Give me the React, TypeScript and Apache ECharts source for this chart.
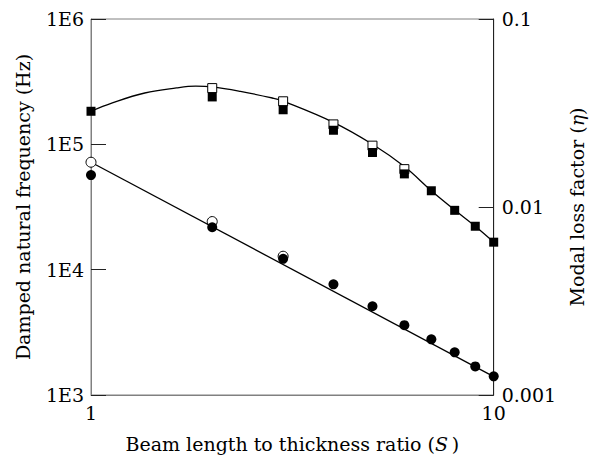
import React, { useEffect, useRef } from "react";
import * as echarts from "echarts";

// Beam length to thickness ratio S
const S = [1, 2, 3, 4, 5, 6, 7, 8, 9, 10];
// Damped natural frequency (Hz), filled circles
const freqFilled = [56800, 21800, 12200, 7640, 5110, 3610, 2780, 2190, 1690, 1410];
// open circles
const sOpenFreq = [1, 2, 3];
const freqOpen = [72000, 24200, 12800];
// fitted straight line (log-log)
const freqFitS = [1, 10];
const freqFit = [72000, 1400];

// Modal loss factor (eta), filled squares
const etaFilled = [0.0323, 0.0385, 0.0329, 0.0256, 0.0195, 0.015, 0.0122, 0.0096, 0.0079, 0.0065];
// open squares
const sOpenEta = [2, 3, 4, 5, 6];
const etaOpen = [0.0429, 0.0365, 0.0275, 0.0212, 0.0159];
// fitted curve
const etaFitS = [1, 1.13, 1.36, 1.63, 1.82, 2, 2.35, 2.82, 3, 4, 5, 6, 7, 8, 9, 10];
const etaFit = [0.0323, 0.0358, 0.0404, 0.043, 0.0439, 0.0435, 0.0412, 0.038, 0.0366, 0.0282, 0.02155, 0.0164, 0.0122, 0.00964, 0.0079, 0.0065];

const xTicks = ["1", "10"];
const leftTicks = ["1E3", "1E4", "1E5", "1E6"];
const rightTicks = ["0.001", "0.01", "0.1"];

const FONT = "'DejaVu Serif', serif";
const FS = 19;

function zip(xs: number[], ys: number[]) {
  return xs.map((x, i) => [x, ys[i]]);
}

export default function App() {
  const ref = useRef<HTMLDivElement>(null);
  useEffect(() => {
    if (!ref.current) return;
    const chart = echarts.init(ref.current, undefined, { renderer: "svg" });
    const labelStyle = { fontFamily: FONT, fontSize: FS, color: "#000" };
    const italic = { fontFamily: FONT, fontSize: FS, fontStyle: "italic", color: "#000" };
    chart.setOption({
      animation: false,
      backgroundColor: "#fff",
      textStyle: { fontFamily: FONT },
      grid: { left: 91, right: 83, top: 19, bottom: 61, show: true, borderColor: "#808080", borderWidth: 1 },
      xAxis: {
        type: "log",
        logBase: 10,
        min: 1,
        max: 10,
        name: "Beam length to thickness ratio ({i|S}\u2009)",
        nameLocation: "middle",
        nameGap: 39,
        nameTextStyle: { ...labelStyle, rich: { i: italic } },
        axisLine: { lineStyle: { color: "#808080", width: 1 } },
        axisTick: { show: false },
        splitLine: { show: false },
        axisLabel: {
          ...labelStyle,
          margin: 8,
          formatter: (v: number) => xTicks[Math.round(Math.log10(v))] ?? "",
        },
      },
      yAxis: [
        {
          type: "log",
          logBase: 10,
          min: 1000,
          max: 1000000,
          name: "Damped natural frequency (Hz)",
          nameLocation: "middle",
          nameGap: 59,
          nameRotate: 90,
          nameTextStyle: { ...labelStyle },
          axisLine: { lineStyle: { color: "#808080", width: 1 } },
          axisTick: { show: true, inside: true, length: 15, lineStyle: { color: "#222", width: 1 } },
          splitLine: { show: false },
          axisLabel: {
            ...labelStyle,
            margin: 7,
            formatter: (v: number) => leftTicks[Math.round(Math.log10(v)) - 3] ?? "",
          },
        },
        {
          type: "log",
          logBase: 10,
          min: 0.001,
          max: 0.1,
          position: "right",
          name: "Modal loss factor ({i|η})",
          nameLocation: "middle",
          nameGap: 63,
          nameRotate: 90,
          nameTextStyle: { ...labelStyle, rich: { i: italic } },
          axisLine: { lineStyle: { color: "#222", width: 1 } },
          axisTick: { show: true, inside: true, length: 15, lineStyle: { color: "#222", width: 1 } },
          splitLine: { show: false },
          axisLabel: {
            ...labelStyle,
            margin: 8,
            formatter: (v: number) => rightTicks[Math.round(Math.log10(v)) + 3] ?? "",
          },
        },
      ],
      series: [
        {
          type: "line",
          yAxisIndex: 1,
          data: zip(etaFitS, etaFit),
          smooth: 0.4,
          showSymbol: false,
          symbol: "none",
          lineStyle: { color: "#000", width: 1.3 },
          z: 1,
        },
        {
          type: "line",
          yAxisIndex: 0,
          data: zip(freqFitS, freqFit),
          showSymbol: false,
          symbol: "none",
          lineStyle: { color: "#000", width: 1.3 },
          z: 1,
        },
        {
          type: "scatter",
          yAxisIndex: 1,
          data: zip(sOpenEta, etaOpen),
          symbol: "rect",
          symbolSize: 9,
          itemStyle: { color: "#fff", borderColor: "#000", borderWidth: 1, opacity: 1 },
          z: 2,
        },
        {
          type: "scatter",
          yAxisIndex: 0,
          data: zip(sOpenFreq, freqOpen),
          symbol: "circle",
          symbolSize: 10,
          itemStyle: { color: "#fff", borderColor: "#000", borderWidth: 1, opacity: 1 },
          z: 2,
        },
        {
          type: "scatter",
          yAxisIndex: 1,
          data: zip(S, etaFilled),
          symbol: "rect",
          symbolSize: 9,
          itemStyle: { color: "#000", opacity: 1 },
          z: 3,
        },
        {
          type: "scatter",
          yAxisIndex: 0,
          data: zip(S, freqFilled),
          symbol: "circle",
          symbolSize: 10,
          itemStyle: { color: "#000", opacity: 1 },
          z: 3,
        },
      ],
    });
    return () => chart.dispose();
  }, []);
  return (
    <div
      ref={ref}
      style={{ position: "fixed", left: 0, top: 0, width: 594, height: 458, background: "#fff" }}
    />
  );
}
